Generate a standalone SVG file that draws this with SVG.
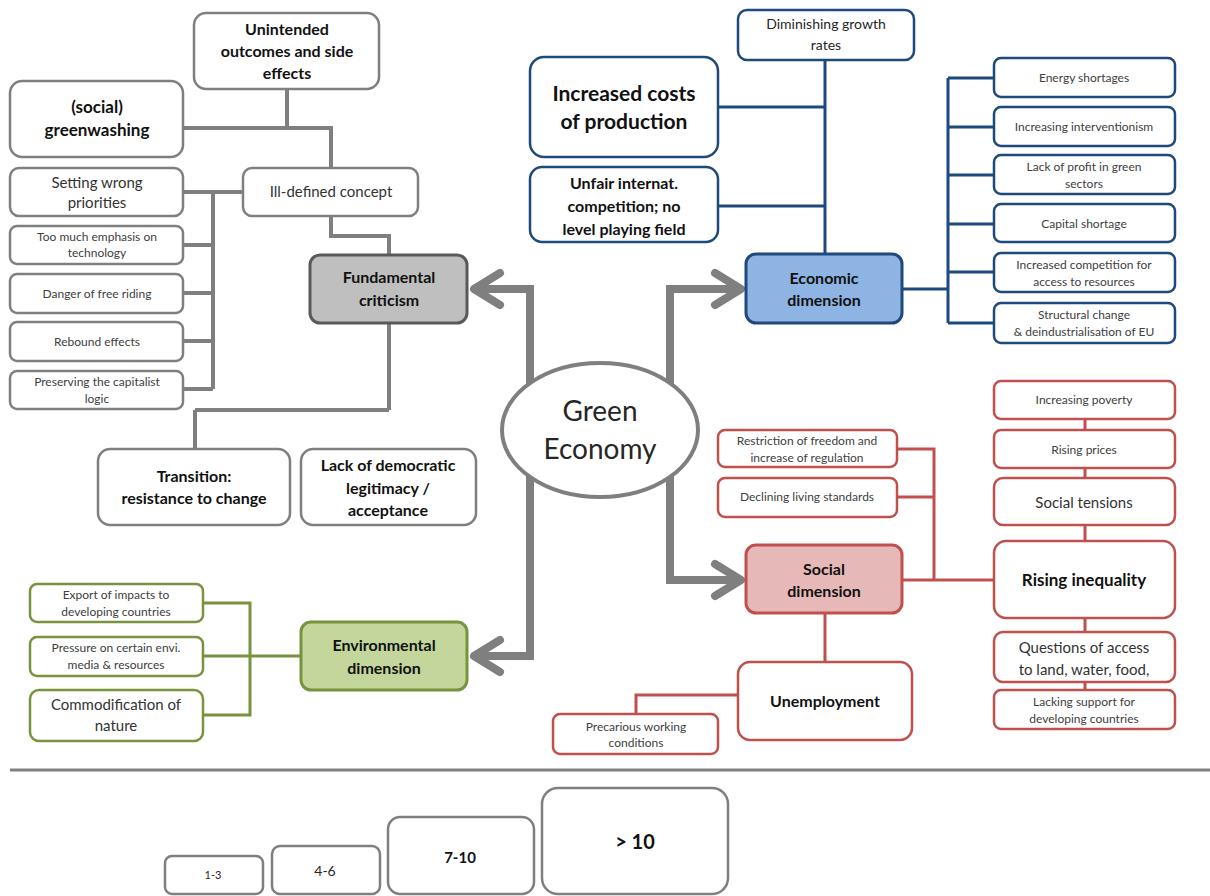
<svg xmlns="http://www.w3.org/2000/svg" width="1210" height="896" viewBox="0 0 1210 896">
<defs>
<marker id="chev" markerUnits="userSpaceOnUse" markerWidth="40" markerHeight="40" viewBox="-32 -20 40 40" refX="0" refY="0" orient="auto" overflow="visible">
<path d="M-26,-16 L0,0 L-26,16" fill="none" stroke="#7f7f7f" stroke-width="8" stroke-linecap="round" stroke-linejoin="round"/>
</marker>
</defs>
<style>
text{font-family:Lato,"Open Sans","Liberation Sans",sans-serif;text-anchor:middle;fill:#262626}
.b{font-weight:bold;fill:#111}
.s{font-size:12px;fill:#404040}
.m{font-size:15px;fill:#333}
.l{font-size:16px}
.g{fill:#fff;stroke:#7f7f7f;stroke-width:2.5}
.bl{fill:#fff;stroke:#1f497d;stroke-width:2.5}
.rd{fill:#fff;stroke:#c0504d;stroke-width:2.5}
.gr{fill:#fff;stroke:#77933c;stroke-width:2.5}
.cg{fill:none;stroke:#7f7f7f;stroke-width:4}
.cb{fill:none;stroke:#1f497d;stroke-width:3}
.cr{fill:none;stroke:#c0504d;stroke-width:3}
.cgr{fill:none;stroke:#77933c;stroke-width:3}
.arrow{fill:none;stroke:#7f7f7f;stroke-width:8;marker-end:url(#chev)}
</style>

<g id="connectors">
<path class="cg" d="M287,89 V128 M183,128 H331 V168"/>
<path class="cg" d="M331,216 V236 H389 V255"/>
<path class="cg" d="M243,192 H183 M213,192 V389 M183,245 H213 M183,293 H213 M183,341 H213 M183,389 H213"/>
<path class="cg" d="M389,323 V410 M195,410 H389 M195,410 V449"/>
<path class="cb" d="M825,60 V254 M718,107 H825 M718,206 H825"/>
<path class="cb" d="M948,78 V323 M948,78 H994 M948,127 H994 M948,175 H994 M948,224 H994 M948,272 H994 M948,323 H994"/>
<path class="cb" d="M902,289 H948" stroke-width="5"/>
<path class="cr" d="M897,449 H934 V580 M897,497 H934 M902,580 H994"/>
<path class="cr" d="M1085,419 V430 M1085,468 V478 M1085,525 V541 M1085,618 V632 M1085,682 V690"/>
<path class="cr" d="M825,613 V662 M738,695 H636 V714"/>
<path class="cgr" d="M301,656 H250 M203,603 H250 V715 H203 M203,656 H250"/>
<path class="arrow" d="M530,430 V289 H474"/>
<path class="arrow" d="M670,430 V289 H741"/>
<path class="arrow" d="M530,430 V656 H474"/>
<path class="arrow" d="M670,430 V580 H741"/>
<line x1="10" y1="770" x2="1210" y2="770" stroke="#808080" stroke-width="3"/>
</g>

<g id="green-economy">
<ellipse cx="600" cy="430" rx="98" ry="67" fill="#fff" stroke="#7f7f7f" stroke-width="4"/>
<text x="600" y="421" font-size="28">Green</text>
<text x="600" y="459" font-size="28">Economy</text>
</g>

<g id="fundamental">
<rect x="310" y="255" width="157" height="68" rx="10" fill="#bfbfbf" stroke="#595959" stroke-width="3"/>
<text class="b l" x="389" y="283">Fundamental</text>
<text class="b l" x="389" y="306">criticism</text>
</g>
<g id="unintended">
<rect class="g" x="194" y="13" width="185" height="76" rx="12"/>
<text class="b l" x="287" y="35">Unintended</text>
<text class="b l" x="287" y="57">outcomes and side</text>
<text class="b l" x="287" y="79">effects</text>
</g>
<g id="greenwashing">
<rect class="g" x="10" y="81" width="173" height="76" rx="12"/>
<text class="b" font-size="17" x="97" y="113">(social)</text>
<text class="b" font-size="17" x="97" y="136">greenwashing</text>
</g>
<g id="ill-defined">
<rect class="g" x="243" y="168" width="175" height="48" rx="9"/>
<text class="m" x="331" y="197">Ill-defined concept</text>
</g>
<g id="wrong-priorities">
<rect class="g" x="10" y="168" width="173" height="48" rx="9"/>
<text class="m" x="97" y="188">Setting wrong</text>
<text class="m" x="97" y="208">priorities</text>
</g>
<g id="technology">
<rect class="g" x="10" y="226" width="173" height="38" rx="7"/>
<text class="s" x="97" y="241">Too much emphasis on</text>
<text class="s" x="97" y="257">technology</text>
</g>
<g id="free-riding">
<rect class="g" x="10" y="274" width="173" height="39" rx="7"/>
<text class="s" x="97" y="298">Danger of free riding</text>
</g>
<g id="rebound">
<rect class="g" x="10" y="322" width="173" height="39" rx="7"/>
<text class="s" x="97" y="346">Rebound effects</text>
</g>
<g id="capitalist">
<rect class="g" x="10" y="371" width="173" height="38" rx="7"/>
<text class="s" x="97" y="386">Preserving the capitalist</text>
<text class="s" x="97" y="403">logic</text>
</g>
<g id="transition">
<rect class="g" x="98" y="449" width="192" height="76" rx="12"/>
<text class="b l" x="194" y="482">Transition:</text>
<text class="b l" x="194" y="504">resistance to change</text>
</g>
<g id="democratic">
<rect class="g" x="301" y="449" width="175" height="76" rx="12"/>
<text class="b l" x="388" y="471">Lack of democratic</text>
<text class="b l" x="388" y="494">legitimacy /</text>
<text class="b l" x="388" y="516">acceptance</text>
</g>

<g id="environmental">
<rect x="301" y="622" width="166" height="68" rx="10" fill="#c3d69b" stroke="#77933c" stroke-width="3"/>
<text class="b l" x="384" y="651">Environmental</text>
<text class="b l" x="384" y="674">dimension</text>
</g>
<g id="export">
<rect class="gr" x="30" y="584" width="173" height="38" rx="7"/>
<text class="s" x="116" y="599">Export of impacts to</text>
<text class="s" x="116" y="616">developing countries</text>
</g>
<g id="pressure">
<rect class="gr" x="30" y="637" width="173" height="39" rx="7"/>
<text class="s" x="116" y="652">Pressure  on certain  envi.</text>
<text class="s" x="116" y="669">media &amp; resources</text>
</g>
<g id="commodification">
<rect class="gr" x="30" y="690" width="173" height="51" rx="9"/>
<text class="m" x="116" y="710">Commodification of</text>
<text class="m" x="116" y="731">nature</text>
</g>

<g id="economic">
<rect x="746" y="254" width="156" height="69" rx="10" fill="#8eb4e3" stroke="#1f497d" stroke-width="3"/>
<text class="b l" x="824" y="284">Economic</text>
<text class="b l" x="824" y="306">dimension</text>
</g>
<g id="growth">
<rect class="bl" x="738" y="10" width="176" height="50" rx="9"/>
<text font-size="14" fill="#333" x="826" y="29">Diminishing growth</text>
<text font-size="14" fill="#333" x="826" y="50">rates</text>
</g>
<g id="costs">
<rect class="bl" x="530" y="57" width="188" height="100" rx="14"/>
<text class="b" font-size="21" x="624" y="101">Increased costs</text>
<text class="b" font-size="21" x="624" y="129">of production</text>
</g>
<g id="unfair">
<rect class="bl" x="530" y="167" width="188" height="75" rx="12"/>
<text class="b l" x="624" y="189">Unfair internat.</text>
<text class="b l" x="624" y="212">competition; no</text>
<text class="b l" x="624" y="235">level playing field</text>
</g>
<g id="energy">
<rect class="bl" x="994" y="58" width="181" height="39" rx="7"/>
<text class="s" x="1084" y="82">Energy shortages</text>
</g>
<g id="interventionism">
<rect class="bl" x="994" y="107" width="181" height="39" rx="7"/>
<text class="s" x="1084" y="131">Increasing interventionism</text>
</g>
<g id="profit">
<rect class="bl" x="994" y="155" width="181" height="39" rx="7"/>
<text class="s" x="1084" y="171">Lack of profit in green</text>
<text class="s" x="1084" y="188">sectors</text>
</g>
<g id="capital">
<rect class="bl" x="994" y="204" width="181" height="38" rx="7"/>
<text class="s" x="1084" y="228">Capital shortage</text>
</g>
<g id="competition">
<rect class="bl" x="994" y="253" width="181" height="39" rx="7"/>
<text class="s" x="1084" y="269">Increased competition for</text>
<text class="s" x="1084" y="286">access to resources</text>
</g>
<g id="structural">
<rect class="bl" x="994" y="303" width="181" height="40" rx="7"/>
<text class="s" x="1084" y="319">Structural change</text>
<text class="s" x="1084" y="336">&amp; deindustrialisation of EU</text>
</g>

<g id="social">
<rect x="746" y="545" width="156" height="68" rx="10" fill="#e6b9b8" stroke="#c0504d" stroke-width="3"/>
<text class="b l" x="824" y="575">Social</text>
<text class="b l" x="824" y="597">dimension</text>
</g>
<g id="restriction">
<rect class="rd" x="718" y="430" width="179" height="37" rx="7"/>
<text class="s" x="807" y="445">Restriction of freedom and</text>
<text class="s" x="807" y="462">increase of regulation</text>
</g>
<g id="declining">
<rect class="rd" x="718" y="478" width="179" height="39" rx="7"/>
<text class="s" x="807" y="501">Declining living standards</text>
</g>
<g id="poverty">
<rect class="rd" x="994" y="381" width="181" height="38" rx="7"/>
<text class="s" x="1084" y="404">Increasing poverty</text>
</g>
<g id="prices">
<rect class="rd" x="994" y="430" width="181" height="38" rx="7"/>
<text class="s" x="1084" y="454">Rising prices</text>
</g>
<g id="tensions">
<rect class="rd" x="994" y="478" width="181" height="47" rx="9"/>
<text class="m" x="1084" y="508">Social tensions</text>
</g>
<g id="inequality">
<rect class="rd" x="994" y="541" width="181" height="77" rx="12"/>
<text class="b" font-size="17" x="1084" y="586">Rising inequality</text>
</g>
<g id="access">
<rect class="rd" x="994" y="632" width="181" height="50" rx="9"/>
<text class="m" x="1084" y="653">Questions of access</text>
<text class="m" x="1084" y="675">to land, water, food,</text>
</g>
<g id="lacking-support">
<rect class="rd" x="994" y="690" width="181" height="39" rx="7"/>
<text class="s" x="1084" y="706">Lacking support for</text>
<text class="s" x="1084" y="723">developing countries</text>
</g>
<g id="unemployment">
<rect class="rd" x="738" y="662" width="174" height="78" rx="12"/>
<text class="b l" x="825" y="707">Unemployment</text>
</g>
<g id="precarious">
<rect class="rd" x="553" y="714" width="165" height="40" rx="7"/>
<text class="s" x="636" y="731">Precarious working</text>
<text class="s" x="636" y="747">conditions</text>
</g>

<g id="legend">
<rect class="g" x="165" y="856" width="98" height="38" rx="7"/>
<text x="213" y="879" font-size="11" font-family="Liberation Serif,serif">1-3</text>
<rect class="g" x="272" y="846" width="108" height="48" rx="8"/>
<text x="325" y="876" font-size="14" font-family="Liberation Serif,serif">4-6</text>
<rect class="g" x="388" y="817" width="146" height="77" rx="12"/>
<text class="b" x="460" y="863" font-size="15">7-10</text>
<rect class="g" x="542" y="788" width="186" height="106" rx="16"/>
<text class="b" x="635" y="849" font-size="20">&gt; 10</text>
</g>
</svg>
